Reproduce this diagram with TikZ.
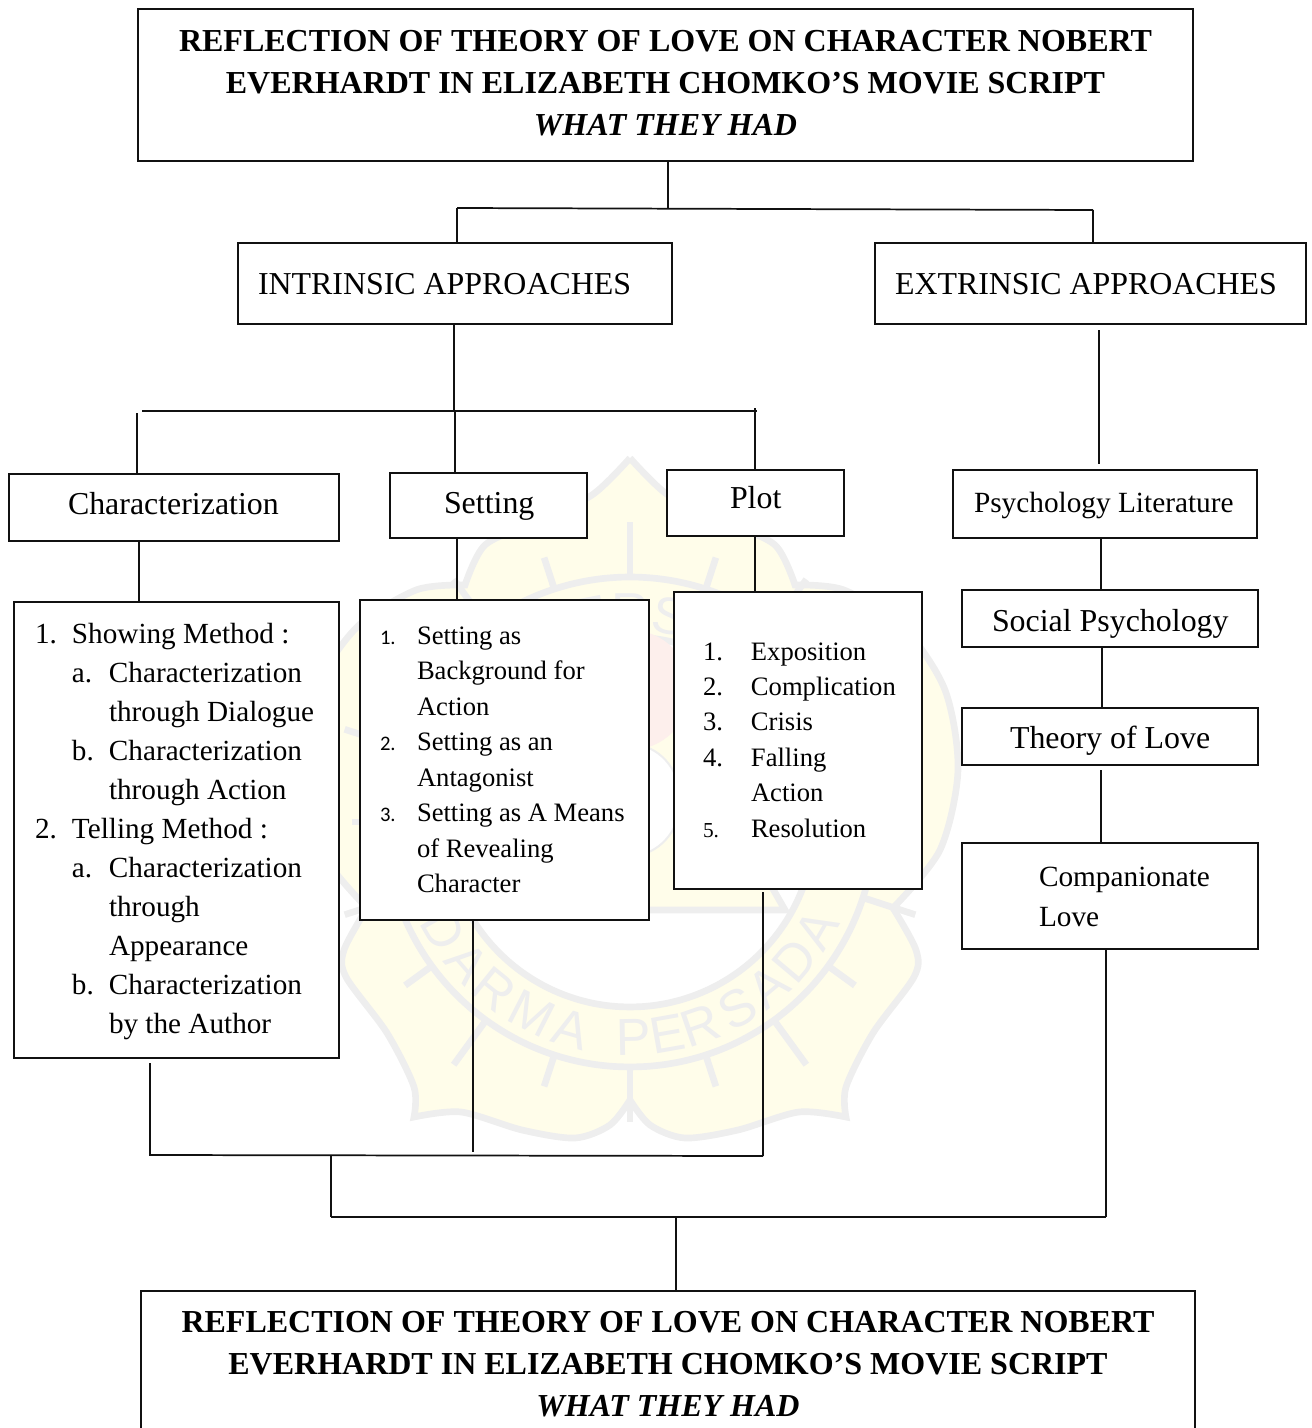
\documentclass[tikz,border=0pt]{standalone}
\usepackage{fontspec}
\setmainfont{Liberation Serif}
\newfontfamily\numf{Carlito}
\newfontfamily\wmsans{Liberation Sans}
\newdimen\px \px=0.75pt
\definecolor{wmfill}{HTML}{FFFDEA}
\definecolor{wmline}{HTML}{EEEEEE}
\definecolor{wmpink}{HTML}{FDEFEC}
\definecolor{ink}{HTML}{111111}
\tikzset{
  box/.style={draw=ink,fill=white,line width=.85pt,inner sep=0pt,outer sep=0pt},
  openbox/.style={fill=white,inner sep=0pt,outer sep=0pt},
  link/.style={draw=ink,line width=1.3pt},
  wmstroke/.style={draw=wmline,line width=5pt},
  wmletter/.style={text=wmline,inner sep=0pt,font=\wmsans\fontsize{39}{39}\selectfont},
}
% x1 y1 x2 y2 in pixels
\newcommand\bx[7][box]{%
  \pgfmathsetmacro\bw{#5-#3}\pgfmathsetmacro\bh{#6-#4}%
  \node[#1] (#2) at ({(#3+#5)/2},{(#4+#6)/2})
    {\parbox[c][\bh\px][t]{\bw\px}{#7}};}
% first-baseline offset, size, leading (pixels)
\newcommand\txt[4]{%
  \pgfmathsetmacro\fa{#2*.75}\pgfmathsetmacro\fb{#3*.75}\pgfmathsetmacro\dy{#1-.7*#3}%
  \fontsize{\fa}{\fb}\selectfont\vspace*{\dy\px}#4}
\newcommand\ls[1]{\par\noindent\hspace*{#1\px}\strut\ignorespaces}
\newcommand\titletext{\centering\bfseries REFLECTION OF THEORY OF LOVE ON CHARACTER NOBERT\strut\par
  EVERHARDT IN ELIZABETH CHOMKO’S MOVIE SCRIPT\strut\par
  {\itshape WHAT THEY HAD\strut\par}}
\newcommand\lnum[1]{\makebox[37\px][l]{#1}}
\begin{document}
\begin{tikzpicture}[x=0.75pt,y=-0.75pt]
\useasboundingbox (0,0) rectangle (1311,1428);
% ---------- watermark ----------
\foreach \m in {1,-1}{
 \begin{scope}[shift={(630,0)},xscale=\m,shift={(-630,0)}]
  \fill[wmfill] (630,458) -- plot[smooth] coordinates {(630,458) (668,495) (725,522) (775,545) (795,585)}
    -- plot[smooth] coordinates {(795,585) (844,590) (903,627) (945,690) (958,770) (940,850) (893,908)}
    -- plot[smooth] coordinates {(893,908) (916,950) (914,977) (873,1033) (846,1087) (846,1117)}
    -- plot[smooth] coordinates {(846,1117) (799,1112) (738,1130) (685,1138) (650,1125) (630,1100)} -- cycle;
  \draw[wmstroke,line join=miter] plot[smooth] coordinates {(630,458) (668,495) (725,522) (775,545) (795,585)}
    -- plot[smooth] coordinates {(795,585) (844,590) (903,627) (945,690) (958,770) (940,850) (893,908)}
    -- plot[smooth] coordinates {(893,908) (916,950) (914,977) (873,1033) (846,1087) (846,1117)}
    -- plot[smooth] coordinates {(846,1117) (799,1112) (738,1130) (685,1138) (650,1125) (630,1100)};
 \end{scope}
}
\foreach \a in {0,36,...,324}{
  \draw[wmstroke] ({630+245*sin(\a)},{822+245*cos(\a)}) -- ({630+300*sin(\a)},{822+300*cos(\a)});
}
\foreach \a in {18,54,...,342}{
  \draw[wmstroke] ({630+245*sin(\a)},{822+245*cos(\a)}) -- ({630+278*sin(\a)},{822+278*cos(\a)});
}
\draw[wmstroke] (630,1067) -- (630,1100);
\draw[wmstroke] plot[domain=0:360,samples=90,smooth cycle] ({630+245*sin(\x)},{822+245*cos(\x)});
\filldraw[wmstroke,fill=white] plot[domain=0:360,samples=90,smooth cycle] ({630+185*sin(\x)},{822+185*cos(\x)});
\filldraw[wmstroke,fill=wmfill] (630,640) -- (785,910) -- (475,910) -- cycle;
\fill[wmpink] (630,690) circle[radius=45pt];
\filldraw[draw=wmline,line width=1.5pt,fill=white] (630,800) ellipse[x radius=38pt,y radius=42pt];
\foreach \ch/\a/\nn in {D/-60/a,A/-49/b,R/-39/c,M/-27/d,A/-16/e,P/1/f,E/10/g,R/19/h,S/30/i,A/40/j,D/50/k,A/60/l}{
  \node[wmletter,rotate=\a] (wmb\nn) at ({630+215*sin(\a)},{822+215*cos(\a)}) {\ch};
}
\foreach \ch/\a/\nn in {E/-11/e,R/0/f,S/11/g}{
  \node[wmletter,rotate=-\a] (wmt\nn) at ({630+210*sin(\a)},{822-210*cos(\a)}) {\ch};
}
% ---------- boxes ----------
\bx{top}{138}{9}{1193}{161}{\txt{42}{32}{42}{\titletext}}
\bx{intr}{238}{243}{672}{324}{\txt{51}{31.9}{40}{\ls{20}INTRINSIC APPROACHES}}
\bx{extr}{875}{243}{1306}{324}{\txt{51}{31.9}{40}{\ls{20}EXTRINSIC APPROACHES}}
\bx{char}{9}{474}{339}{541}{\txt{40}{31.9}{40}{\ls{59}Characterization}}
\bx{sett}{390}{473}{587}{538}{\txt{40}{31.9}{40}{\ls{54}Setting}}
\bx{plot}{667}{470}{844}{536}{\txt{38}{31.9}{40}{\ls{63}Plot}}
\bx{psy}{953}{470}{1257}{538}{\txt{42}{29.3}{40}{\ls{21}Psychology Literature}}
\bx{soc}{962}{590}{1258}{647}{\txt{41}{31.9}{40}{\ls{30}Social Psychology}}
\bx{theo}{962}{708}{1258}{765}{\txt{40}{31.9}{40}{\ls{48}Theory of Love}}
\bx{comp}{962}{843}{1258}{949}{\txt{43}{29.3}{40}{\ls{77}Companionate\ls{77}Love}}
\bx{charl}{14}{602}{339}{1058}{\txt{41.5}{29.2}{39}{%
  \ls{21}\lnum{1.}Showing Method :
  \ls{58}\lnum{a.}Characterization
  \ls{95}through Dialogue
  \ls{58}\lnum{b.}Characterization
  \ls{95}through Action
  \ls{21}\lnum{2.}Telling Method :
  \ls{58}\lnum{a.}Characterization
  \ls{95}through
  \ls{95}Appearance
  \ls{58}\lnum{b.}Characterization
  \ls{95}by the Author}}
\newcommand\cn[1]{\makebox[37\px][l]{\numf\fontsize{15.5}{15}\selectfont #1}}
\bx{settl}{360}{600}{649}{920}{\txt{44}{26.6}{35.5}{%
  \ls{20}\cn{1.}Setting as
  \ls{57}Background for
  \ls{57}Action
  \ls{20}\cn{2.}Setting as an
  \ls{57}Antagonist
  \ls{20}\cn{3.}Setting as A Means
  \ls{57}of Revealing
  \ls{57}Character}}
\newcommand\pn[1]{\makebox[48\px][l]{#1}}
\bx{plotl}{674}{592}{922}{889}{\txt{68}{26.6}{35.4}{%
  \ls{29}\pn{1.}Exposition
  \ls{29}\pn{2.}Complication
  \ls{29}\pn{3.}Crisis
  \ls{29}\pn{4.}Falling
  \ls{77}Action
  \ls{29}\pn{{\fontsize{16}{16}\selectfont 5.}}Resolution}}
\bx[openbox]{bot}{141}{1291}{1195}{1428}{\txt{41}{32}{42}{\titletext}}
\draw[ink,line width=.85pt] (bot.south west) -- (bot.north west) -- (bot.north east) -- (bot.south east);
% ---------- connectors ----------
\coordinate (j1) at (668,208);
\coordinate (ja) at (457,208);
\coordinate (jb) at (1093,210);
\coordinate (k1) at (454,411);
\coordinate (k2) at (142,411);
\coordinate (k3) at (757,411);
\coordinate (c1) at (137,413);
\coordinate (k4) at (455,410);
\coordinate (k5) at (755,408);
\coordinate (e1) at (1099,330);
\coordinate (e2) at (1099,464);
\coordinate (m1) at (139,600);
\coordinate (m2) at (457,600);
\coordinate (m3) at (755,600);
\coordinate (s1) at (1101,600);
\coordinate (s2) at (1102,700);
\coordinate (s3) at (1101,770);
\coordinate (n1) at (150,1063);
\coordinate (n2) at (150,1155);
\coordinate (n3) at (763,1156);
\coordinate (n4) at (473,1152);
\coordinate (n5) at (763,892);
\coordinate (n6) at (331,1156);
\coordinate (n7) at (331,1217);
\coordinate (n8) at (1106,1217);
\coordinate (n9) at (676,1217);
\draw[link] (top.south -| j1) -- (j1);
\draw[link] (ja) -- (jb);
\draw[link] (ja) -- (ja |- intr.north);
\draw[link] (jb) -- (jb |- extr.north);
\draw[link] (intr.south -| k1) -- (k1);
\draw[link] (k2) -- (k3);
\draw[link] (c1) -- (c1 |- char.north);
\draw[link] (k4) -- (k4 |- sett.north);
\draw[link] (k5) -- (k5 |- plot.north);
\draw[link] (e1) -- (e2);
\draw[link] (char.south -| m1) -- (m1 |- charl.north);
\draw[link] (sett.south -| m2) -- (m2 |- settl.north);
\draw[link] (plot.south -| m3) -- (m3 |- plotl.north);
\draw[link] (psy.south -| s1) -- (s1 |- soc.north);
\draw[link] (soc.south -| s2) -- (s2 |- theo.north);
\draw[link] (s3) -- (s3 |- comp.north);
\draw[link] (n1) -- (n2) -- (n3);
\draw[link] (settl.south -| n4) -- (n4);
\draw[link] (n5) -- (n3);
\draw[link] (n6) -- (n7);
\draw[link] (n7) -- (n8);
\draw[link] (comp.south -| n8) -- (n8);
\draw[link] (n9) -- (n9 |- bot.north);
\end{tikzpicture}
\end{document}
